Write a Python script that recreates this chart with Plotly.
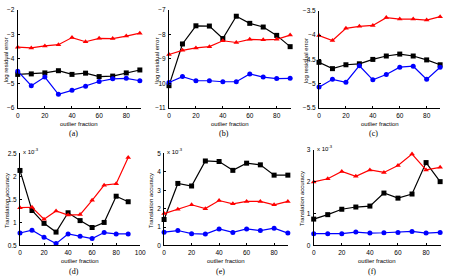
import plotly.graph_objects as go

x = [0, 10, 20, 30, 40, 50, 60, 70, 80, 90]

# (a) log residual error
a_red = [-3.52, -3.55, -3.47, -3.42, -3.13, -3.30, -3.16, -3.17, -3.07, -2.95]
a_black = [-4.63, -4.61, -4.57, -4.48, -4.63, -4.58, -4.72, -4.70, -4.57, -4.45]
a_blue = [-4.50, -5.09, -4.74, -5.44, -5.28, -5.11, -4.92, -4.81, -4.79, -4.89]
# (b)
b_red = [-8.82, -8.65, -8.55, -8.50, -8.26, -8.33, -8.20, -8.22, -8.20, -8.03]
b_black = [-10.09, -8.39, -7.65, -7.66, -8.17, -7.26, -7.55, -7.70, -8.04, -8.50]
b_blue = [-9.96, -9.72, -9.89, -9.89, -9.93, -9.93, -9.61, -9.74, -9.80, -9.79]
# (c)
c_red = [-4.01, -4.11, -3.86, -3.82, -3.80, -3.64, -3.67, -3.67, -3.69, -3.62]
c_black = [-4.56, -4.69, -4.61, -4.59, -4.50, -4.43, -4.39, -4.43, -4.51, -4.61]
c_blue = [-5.07, -4.91, -4.97, -4.63, -4.92, -4.81, -4.66, -4.64, -4.91, -4.66]
# (d) translation accuracy (x 1e-3)
d_red = [1.32, 1.33, 1.07, 1.25, 1.16, 1.17, 1.48, 1.81, 1.84, 2.41]
d_black = [2.13, 1.26, 0.98, 0.79, 1.21, 1.04, 0.89, 1.00, 1.57, 1.45]
d_blue = [0.77, 0.83, 0.68, 0.54, 0.75, 0.70, 0.65, 0.78, 0.75, 0.75]
# (e)
e_red = [1.73, 1.96, 2.21, 2.00, 2.44, 2.26, 2.39, 2.39, 2.21, 2.39]
e_black = [1.41, 3.37, 3.23, 4.59, 4.56, 4.08, 4.47, 4.38, 3.82, 3.82]
e_blue = [0.72, 0.81, 0.64, 0.62, 0.90, 0.71, 0.90, 0.81, 0.94, 0.67]
# (f)
f_red = [2.00, 2.10, 2.33, 2.18, 2.38, 2.30, 2.52, 2.88, 2.38, 2.46]
f_black = [0.83, 0.97, 1.14, 1.21, 1.24, 1.65, 1.49, 1.62, 2.61, 2.01]
f_blue = [0.37, 0.37, 0.37, 0.42, 0.39, 0.40, 0.41, 0.44, 0.39, 0.41]

panels = [
    dict(red=a_red, black=a_black, blue=a_blue, yr=[-6, -2], yt=[-6, -5, -4, -3, -2], xr=[0, 91], xt=[0, 20, 40, 60, 80],
         px=(16, 141.7), py=(6, 106.7), ylab="log residual error", cap="(a)", exp=False),
    dict(red=b_red, black=b_black, blue=b_blue, yr=[-11, -7], yt=[-11, -10, -9, -8, -7], xr=[0, 90.5], xt=[0, 20, 40, 60, 80],
         px=(170, 294), py=(6, 106.7), ylab="log residual error", cap="(b)", exp=False),
    dict(red=c_red, black=c_black, blue=c_blue, yr=[-5.5, -3.5], yt=[-5.5, -5, -4.5, -4, -3.5], xr=[0, 90], xt=[0, 20, 40, 60, 80],
         px=(322.7, 446), py=(7, 106.7), ylab="log residual error", cap="(c)", exp=False),
    dict(red=d_red, black=d_black, blue=d_blue, yr=[0.5, 2.5], yt=[0.5, 1, 1.5, 2, 2.5], xr=[0, 100], xt=[0, 20, 40, 60, 80, 100],
         px=(18.3, 140.7), py=(153.3, 247.7), ylab="Translation accuracy", cap="(d)", exp=True),
    dict(red=e_red, black=e_black, blue=e_blue, yr=[0, 5], yt=[0, 1, 2, 3, 4, 5], xr=[0, 90], xt=[0, 20, 40, 60, 80],
         px=(165, 291), py=(153.3, 247.7), ylab="Translation accuracy", cap="(e)", exp=True),
    dict(red=f_red, black=f_black, blue=f_blue, yr=[0, 3], yt=[0, 1, 2, 3], xr=[0, 90.7], xt=[0, 20, 40, 60, 80],
         px=(317.3, 447), py=(150, 247.7), ylab="Translation accuracy", cap="(f)", exp=True),
]

W, H = 453, 277
fig = go.Figure()
annotations = []
tickfont = dict(family="Liberation Sans, Arial", size=6.5, color="black")
labfont = dict(family="Liberation Sans, Arial", size=6, color="black")

for i, p in enumerate(panels, start=1):
    xa = "x" if i == 1 else f"x{i}"
    ya = "y" if i == 1 else f"y{i}"
    for key, color, sym in [("black", "black", "square"), ("red", "red", "triangle-up"), ("blue", "blue", "circle")]:
        fig.add_trace(go.Scatter(
            x=x, y=p[key], mode="lines+markers", xaxis=xa, yaxis=ya,
            line=dict(color=color, width=1.2),
            marker=dict(color=color, symbol=sym, size=5, line=dict(width=0)),
            showlegend=False, cliponaxis=False))
    x0, x1 = p["px"][0] / W, p["px"][1] / W
    y0, y1 = 1 - p["py"][1] / H, 1 - p["py"][0] / H
    axcommon = dict(showgrid=False, zeroline=False, showline=True, linecolor="black", linewidth=1,
                    ticks="inside", ticklen=2, tickcolor="black", tickfont=tickfont)
    fig.layout[f"xaxis{i if i > 1 else ''}"] = dict(domain=[x0, x1], range=p["xr"], tickvals=p["xt"],
                                                   anchor=ya, ticklabelstandoff=1, **axcommon)
    fig.layout[f"yaxis{i if i > 1 else ''}"] = dict(domain=[y0, y1], range=p["yr"], tickvals=p["yt"],
                                                   anchor=xa, ticklabelstandoff=1, **axcommon)
    cx = (p["px"][0] + p["px"][1]) / 2
    annotations.append(dict(text="outlier fraction", x=cx / W, y=1 - (p["py"][1] + 16) / H, xref="paper", yref="paper",
                            showarrow=False, font=labfont, xanchor="center", yanchor="middle"))
    annotations.append(dict(text=p["cap"], x=(cx - 6) / W, y=1 - (p["py"][1] + 26.5) / H, xref="paper", yref="paper",
                            showarrow=False, font=dict(family="Liberation Serif, Times New Roman", size=8, color="black"),
                            xanchor="center", yanchor="middle"))
    annotations.append(dict(text=p["ylab"], x=(p["px"][0] - 12.5) / W, y=1 - ((p["py"][0] + p["py"][1]) / 2 + 1) / H,
                            xref="paper", yref="paper", showarrow=False, textangle=-90,
                            font=labfont, xanchor="center", yanchor="middle"))
    if p["exp"]:
        annotations.append(dict(text="x 10<sup>-3</sup>", x=(p["px"][0] + 1) / W, y=1 - (p["py"][0] - 2) / H,
                                xref="paper", yref="paper", showarrow=False,
                                font=dict(family="Liberation Sans, Arial", size=6, color="black"),
                                xanchor="left", yanchor="middle"))

fig.update_layout(width=W, height=H, margin=dict(l=0, r=0, t=0, b=0),
                  paper_bgcolor="white", plot_bgcolor="white", annotations=annotations)
fig.write_html("out.html")
